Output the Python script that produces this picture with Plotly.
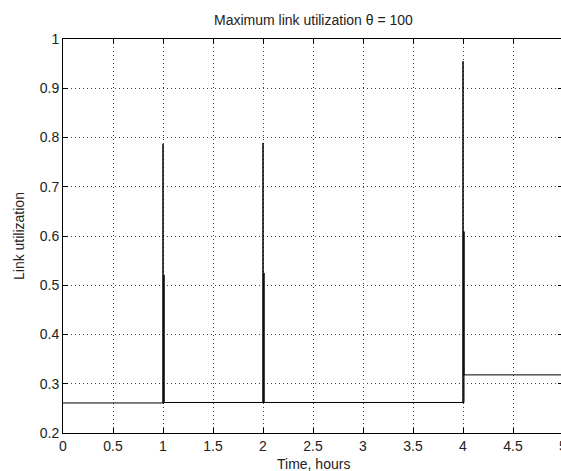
import plotly.graph_objects as go

# Step series of the maximum link utilization (time in hours)
time_h = [0, 1, 1, 1, 1.01, 1.01, 1.01, 2, 2, 2, 2.01, 2.01, 2.01,
          4, 4, 4, 4.01, 4.01, 4.01, 5]
util = [0.261, 0.261, 0.787, 0.261, 0.261, 0.521, 0.262, 0.262, 0.789, 0.262,
        0.262, 0.525, 0.262, 0.262, 0.955, 0.262, 0.262, 0.609, 0.318, 0.318]

x_ticks = [0, 0.5, 1, 1.5, 2, 2.5, 3, 3.5, 4, 4.5, 5]
x_tick_text = ["0", "0.5", "1", "1.5", "2", "2.5", "3", "3.5", "4", "4.5", "5"]
y_ticks = [0.2, 0.3, 0.4, 0.5, 0.6, 0.7, 0.8, 0.9, 1]
y_tick_text = ["0.2", "0.3", "0.4", "0.5", "0.6", "0.7", "0.8", "0.9", "1"]

title_text = "Maximum link utilization \u03b8 = 100"
x_title = "Time, hours"
y_title = "Link utilization"

FONT = "Liberation Sans, Arial, sans-serif"
TXT = "#222222"

fig = go.Figure()
fig.add_trace(go.Scatter(x=time_h, y=util, mode="lines",
                         line=dict(color="black", width=1),
                         showlegend=False, hoverinfo="skip"))

axis_common = dict(
    showline=True, linecolor="black", linewidth=1,
    ticks="inside", ticklen=5, tickcolor="black", tickwidth=1,
    showgrid=True, gridcolor="#444444", gridwidth=1, griddash="1px,3px",
    zeroline=False, ticklabeloverflow="allow", automargin=False,
    tickfont=dict(family=FONT, size=14, color=TXT),
)

fig.update_layout(
    width=563, height=471,
    margin=dict(l=63, r=0, t=39, b=38, autoexpand=False),
    paper_bgcolor="white", plot_bgcolor="white",
    font=dict(family=FONT, size=14, color=TXT),
    xaxis=dict(range=[0, 5], tickvals=x_ticks, ticktext=x_tick_text,
               mirror="ticks", **axis_common),
    yaxis=dict(range=[0.2, 1], tickvals=y_ticks, ticktext=y_tick_text,
               mirror="ticks", **axis_common),
    annotations=[
        dict(text=title_text, xref="paper", yref="paper", x=0.5, y=1.048,
             xanchor="center", yanchor="middle", showarrow=False,
             font=dict(family=FONT, size=14, color=TXT)),
        dict(text=x_title, xref="paper", yref="paper", x=0.5, y=-0.079,
             xanchor="center", yanchor="middle", showarrow=False,
             font=dict(family=FONT, size=14, color=TXT)),
        dict(text=y_title, xref="paper", yref="paper", x=-0.088, y=0.5,
             xanchor="center", yanchor="middle", showarrow=False, textangle=-90,
             font=dict(family=FONT, size=14, color=TXT)),
    ],
)

fig.write_html(
    "out.html",
    config={"displayModeBar": False},
    post_script="document.body.style.margin='0';"
                "document.body.style.overflow='hidden';",
)
